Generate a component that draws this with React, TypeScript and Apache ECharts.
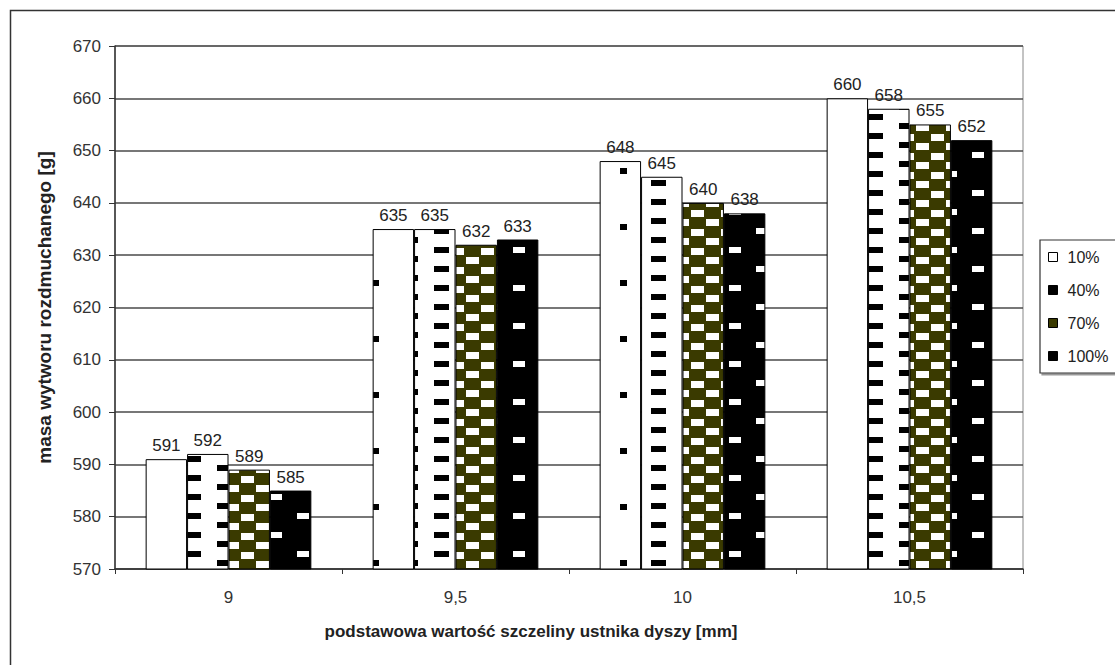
import React, { useEffect, useRef } from "react";
import * as echarts from "echarts";

const categories = ["9", "9,5", "10", "10,5"];
const seriesNames = ["10%", "40%", "70%", "100%"];
const values10 = [591, 635, 648, 660];
const values40 = [592, 635, 645, 658];
const values70 = [589, 632, 640, 655];
const values100 = [585, 633, 638, 652];
const yMin = 570;
const yMax = 670;
const yStep = 10;
const xTitle = "podstawowa wartość szczeliny ustnika dyszy [mm]";
const yTitle = "masa wytworu rozdmuchanego [g]";

const FONT = "'Liberation Sans', Arial, sans-serif";
const OLIVE = "#3a3a00";

function makeTile(w: number, h: number, bg: string, fg: string, rects: number[][]) {
  const c = document.createElement("canvas");
  c.width = w;
  c.height = h;
  const ctx = c.getContext("2d")!;
  ctx.fillStyle = bg;
  ctx.fillRect(0, 0, w, h);
  ctx.fillStyle = fg;
  rects.forEach(([x, y, rw, rh]) => ctx.fillRect(x, y, rw, rh));
  return { image: c.toDataURL(), repeat: "repeat", imageWidth: w, imageHeight: h } as any;
}

export default function App() {
  const ref = useRef<HTMLDivElement>(null);
  useEffect(() => {
    if (!ref.current) return;
    const chart = echarts.init(ref.current, null, { renderer: "svg" });

    const p10 = makeTile(124, 56, "#ffffff", "#000000", [[0, 0, 7, 6], [62, 28, 7, 6]]);
    const p40 = makeTile(62, 19, "#ffffff", "#000000", [[0, 0, 15, 6], [31, 9, 15, 6]]);
    const p70 = makeTile(30, 19, OLIVE, "#ffffff", [[1, 1, 13, 7], [16, 10, 13, 7]]);
    const p100 = makeTile(54, 38, "#000000", "#ffffff", [[0, 0, 12, 6], [27, 19, 12, 6]]);
    const patterns = [p10, p40, p70, p100];
    const allValues = [values10, values40, values70, values100];
    const legendColors = ["#ffffff", "#000000", OLIVE, "#000000"];

    const series = seriesNames.map((name, i) => ({
      name,
      type: "bar",
      data: allValues[i],
      barGap: "0%",
      barCategoryGap: "27%",
      itemStyle: { color: patterns[i], borderColor: "#000", borderWidth: 1 },
      label: {
        show: true,
        position: "top",
        distance: 5,
        color: "#222",
        fontSize: 17,
        fontFamily: FONT,
      },
    }));

    chart.setOption({
      animation: false,
      backgroundColor: "#ffffff",
      textStyle: { fontFamily: FONT },
      grid: {
        left: 115,
        right: 92,
        top: 46,
        bottom: 96,
        show: true,
        borderColor: "#888",
        borderWidth: 1,
        backgroundColor: "transparent",
      },
      legend: {
        orient: "vertical",
        left: 1040,
        top: 240,
        padding: [9, 40, 9, 8],
        itemGap: 17,
        itemWidth: 9,
        itemHeight: 9,
        icon: "rect",
        borderColor: "#333",
        borderWidth: 1.2,
        shadowColor: "#999",
        shadowOffsetX: 2,
        shadowOffsetY: 2,
        shadowBlur: 0,
        backgroundColor: "#fff",
        textStyle: { fontSize: 16, color: "#222", fontFamily: FONT, padding: [0, 0, 0, 5] },
        data: seriesNames.map((n, i) => ({
          name: n,
          itemStyle: { color: legendColors[i], borderColor: "#000", borderWidth: 1 },
        })),
      },
      xAxis: {
        type: "category",
        data: categories,
        axisLine: { lineStyle: { color: "#333", width: 1.5 } },
        axisTick: { show: true, alignWithLabel: false, length: 5, lineStyle: { color: "#333" } },
        axisLabel: { fontSize: 17, color: "#333", margin: 20, fontFamily: FONT },
      },
      yAxis: {
        type: "value",
        min: yMin,
        max: yMax,
        interval: yStep,
        name: yTitle,
        nameLocation: "middle",
        nameGap: 61,
        nameTextStyle: { fontSize: 19, fontWeight: "bold", color: "#222", fontFamily: FONT },
        axisLine: { show: true, lineStyle: { color: "#333", width: 1.5 } },
        axisTick: { show: true, length: 6, lineStyle: { color: "#333" } },
        axisLabel: { fontSize: 17, color: "#333", margin: 14, fontFamily: FONT },
        splitLine: { show: true, lineStyle: { color: "#4a4a4a", width: 1.5 } },
      },
      graphic: [
        {
          type: "rect",
          shape: { x: 10.5, y: 10.5, width: 1300, height: 1000 },
          style: { fill: "none", stroke: "#333", lineWidth: 1.5 },
          silent: true,
          z: 100,
        },
        {
          type: "text",
          x: 531,
          y: 631,
          style: {
            text: xTitle,
            fontSize: 17,
            fontWeight: "bold",
            fill: "#222",
            fontFamily: FONT,
            textAlign: "center",
            textVerticalAlign: "middle",
          },
        },
      ],
      series,
    } as any);

    return () => chart.dispose();
  }, []);
  return (
    <div
      ref={ref}
      style={{ position: "absolute", left: 0, top: 0, width: 1115, height: 665 }}
    />
  );
}
